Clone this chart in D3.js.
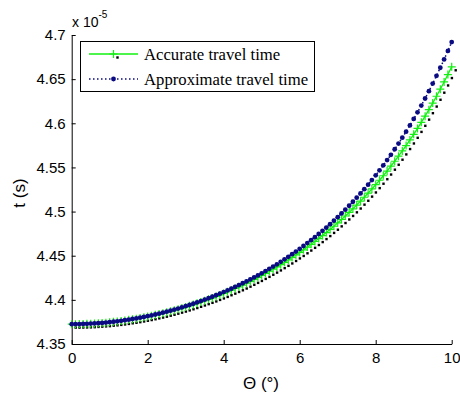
<!DOCTYPE html>
<html>
<head>
<meta charset="utf-8">
<script src="https://cdn.jsdelivr.net/npm/d3@7"></script>
<style>
  body { margin: 0; background: #fff; }
  .graph { width: 460px; height: 394px; }
  .tick text { font-family: "Liberation Sans", Arial, sans-serif; font-size: 15px; fill: #000; }
</style>
</head>
<body>
<div class="graph"></div>
<script>
// 入射角 (°)
const thetaDeg = [
  0, 0.1, 0.2, 0.3, 0.4, 0.5, 0.6, 0.7, 0.8, 0.9,
  1, 1.1, 1.2, 1.3, 1.4, 1.5, 1.6, 1.7, 1.8, 1.9,
  2, 2.1, 2.2, 2.3, 2.4, 2.5, 2.6, 2.7, 2.8, 2.9,
  3, 3.1, 3.2, 3.3, 3.4, 3.5, 3.6, 3.7, 3.8, 3.9,
  4, 4.1, 4.2, 4.3, 4.4, 4.5, 4.6, 4.7, 4.8, 4.9,
  5, 5.1, 5.2, 5.3, 5.4, 5.5, 5.6, 5.7, 5.8, 5.9,
  6, 6.1, 6.2, 6.3, 6.4, 6.5, 6.6, 6.7, 6.8, 6.9,
  7, 7.1, 7.2, 7.3, 7.4, 7.5, 7.6, 7.7, 7.8, 7.9,
  8, 8.1, 8.2, 8.3, 8.4, 8.5, 8.6, 8.7, 8.8, 8.9,
  9, 9.1, 9.2, 9.3, 9.4, 9.5, 9.6, 9.7, 9.8, 9.9,
  10
]
// travel time, unit 1e-5 s
const accurateTime = [
  4.3725, 4.3725, 4.3726, 4.3727, 4.3728, 4.3730, 4.3733, 4.3736, 4.3739, 4.3742,
  4.3747, 4.3751, 4.3756, 4.3761, 4.3767, 4.3774, 4.3780, 4.3787, 4.3795, 4.3803,
  4.3811, 4.3820, 4.3830, 4.3839, 4.3849, 4.3860, 4.3871, 4.3883, 4.3895, 4.3907,
  4.3920, 4.3933, 4.3947, 4.3961, 4.3976, 4.3991, 4.4006, 4.4022, 4.4039, 4.4056,
  4.4073, 4.4092, 4.4110, 4.4129, 4.4148, 4.4168, 4.4189, 4.4210, 4.4232, 4.4254,
  4.4277, 4.4300, 4.4324, 4.4348, 4.4373, 4.4399, 4.4425, 4.4452, 4.4480, 4.4509,
  4.4537, 4.4567, 4.4598, 4.4629, 4.4661, 4.4694, 4.4728, 4.4762, 4.4798, 4.4834,
  4.4872, 4.4910, 4.4950, 4.4990, 4.5031, 4.5074, 4.5118, 4.5162, 4.5209, 4.5256,
  4.5305, 4.5355, 4.5406, 4.5459, 4.5514, 4.5570, 4.5627, 4.5687, 4.5748, 4.5811,
  4.5875, 4.5942, 4.6011, 4.6081, 4.6154, 4.6229, 4.6306, 4.6386, 4.6468, 4.6552,
  4.6640
]
const approxTime = [
  4.3725, 4.3725, 4.3726, 4.3727, 4.3729, 4.3731, 4.3733, 4.3736, 4.3739, 4.3743,
  4.3747, 4.3752, 4.3757, 4.3763, 4.3769, 4.3776, 4.3783, 4.3790, 4.3798, 4.3806,
  4.3815, 4.3824, 4.3834, 4.3844, 4.3855, 4.3866, 4.3877, 4.3889, 4.3901, 4.3914,
  4.3928, 4.3942, 4.3956, 4.3971, 4.3986, 4.4002, 4.4018, 4.4035, 4.4052, 4.4070,
  4.4088, 4.4107, 4.4126, 4.4146, 4.4167, 4.4188, 4.4209, 4.4231, 4.4254, 4.4277,
  4.4301, 4.4326, 4.4351, 4.4377, 4.4403, 4.4431, 4.4459, 4.4487, 4.4517, 4.4547,
  4.4578, 4.4610, 4.4643, 4.4676, 4.4710, 4.4746, 4.4782, 4.4819, 4.4857, 4.4897,
  4.4937, 4.4979, 4.5021, 4.5066, 4.5111, 4.5157, 4.5205, 4.5254, 4.5305, 4.5357,
  4.5411, 4.5467, 4.5524, 4.5583, 4.5643, 4.5706, 4.5770, 4.5837, 4.5905, 4.5976,
  4.6049, 4.6124, 4.6201, 4.6281, 4.6364, 4.6450, 4.6538, 4.6629, 4.6723, 4.6820,
  4.6920
]
const xTickValues = [0, 2, 4, 6, 8, 10]
const yTickValues = [4.35, 4.4, 4.45, 4.5, 4.55, 4.6, 4.65, 4.7]
const yTickLabels = ['4.35', '4.4', '4.45', '4.5', '4.55', '4.6', '4.65', '4.7']
const legendLabels = ['Accurate travel time', 'Approximate travel time']

const Layout = {
  width: 460,
  height: 394,
  left: 71.7,
  right: 451.7,
  top: 35,
  bottom: 344,
  green: '#11f011',
  navy: '#0a0a82',
  shadow: [4, 3.5], // 黑色点相对绿色曲线的偏移
}

const svg = d3.select('.graph')
  .append('svg')
  .attr('width', Layout.width)
  .attr('height', Layout.height)

const x = d3.scaleLinear().domain([0, 10]).range([Layout.left, Layout.right])
const y = d3.scaleLinear().domain([4.35, 4.7]).range([Layout.bottom, Layout.top])

const accPts = thetaDeg.map((t, i) => [t, accurateTime[i]])
const appPts = thetaDeg.map((t, i) => [t, approxTime[i]])
const line = d3.line().x(d => x(d[0])).y(d => y(d[1]))

// 坐标轴
svg.append('g')
  .attr('transform', `translate(0,${Layout.bottom})`)
  .call(d3.axisBottom(x).tickValues(xTickValues).tickSize(-4).tickSizeOuter(0).tickPadding(8))
svg.append('g')
  .attr('transform', `translate(${Layout.left},0)`)
  .call(d3.axisLeft(y).tickValues(yTickValues).tickFormat((d, i) => yTickLabels[i])
    .tickSize(-4).tickSizeOuter(0).tickPadding(6))
svg.selectAll('.domain, .tick line').attr('stroke', '#000')

// 黑色点 (偏移)
svg.append('g')
  .attr('transform', `translate(${Layout.shadow[0]},${Layout.shadow[1]})`)
  .selectAll('rect')
  .data(accPts)
  .enter()
  .append('rect')
  .attr('x', d => x(d[0]) - 1.2)
  .attr('y', d => y(d[1]) - 1.2)
  .attr('width', 2.4)
  .attr('height', 2.4)
  .attr('fill', '#000')

// 精确曲线 绿色 +
svg.append('path')
  .datum(accPts)
  .attr('d', line)
  .attr('fill', 'none')
  .attr('stroke', Layout.green)
  .attr('stroke-width', 1.3)
const plus = (s, px, py) => s.append('path')
  .attr('d', `M${px - 4},${py}H${px + 4}M${px},${py - 4}V${py + 4}`)
  .attr('stroke', Layout.green)
  .attr('stroke-width', 1.2)
  .attr('fill', 'none')
const plusG = svg.append('g')
accPts.forEach(d => plus(plusG, x(d[0]), y(d[1])))

// 近似曲线 蓝色点线
svg.append('path')
  .datum(appPts)
  .attr('d', line)
  .attr('fill', 'none')
  .attr('stroke', Layout.navy)
  .attr('stroke-width', 1.5)
  .attr('stroke-dasharray', '1.5,2.5')
svg.append('g')
  .selectAll('circle')
  .data(appPts)
  .enter()
  .append('circle')
  .attr('cx', d => x(d[0]))
  .attr('cy', d => y(d[1]))
  .attr('r', 2.4)
  .attr('fill', Layout.navy)

// 图例
const lg = svg.append('g')
lg.append('rect')
  .attr('x', 80.5).attr('y', 41.5)
  .attr('width', 234).attr('height', 50)
  .attr('fill', '#fff').attr('stroke', '#000').attr('stroke-width', 1)
lg.append('line')
  .attr('x1', 89).attr('x2', 138).attr('y1', 54).attr('y2', 54)
  .attr('stroke', Layout.green).attr('stroke-width', 1.3)
plus(lg, 113.5, 54)
lg.append('rect')
  .attr('x', 113.5 + Layout.shadow[0] - 1.2).attr('y', 54 + Layout.shadow[1] - 1.2)
  .attr('width', 2.4).attr('height', 2.4).attr('fill', '#000')
lg.append('line')
  .attr('x1', 89).attr('x2', 138).attr('y1', 79).attr('y2', 79)
  .attr('stroke', Layout.navy).attr('stroke-width', 1.5).attr('stroke-dasharray', '1.5,2.5')
lg.append('circle').attr('cx', 113.5).attr('cy', 79).attr('r', 2.4).attr('fill', Layout.navy)
lg.selectAll('text.lbl')
  .data(legendLabels)
  .enter()
  .append('text')
  .attr('class', 'lbl')
  .attr('x', 144)
  .attr('y', (d, i) => 59.5 + i * 25)
  .style('font-family', '"Liberation Serif", "Times New Roman", serif')
  .style('font-size', '16.7px')
  .text(d => d)

// 轴标题
const sans = '"Liberation Sans", Arial, sans-serif'
svg.append('text')
  .attr('x', 261).attr('y', 389)
  .attr('text-anchor', 'middle')
  .style('font-family', sans).style('font-size', '17px')
  .text('\u0398 (\u00b0)')
svg.append('text')
  .attr('transform', 'translate(25,193) rotate(-90)')
  .attr('text-anchor', 'middle')
  .style('font-family', sans).style('font-size', '17px')
  .text('t (s)')
const expo = svg.append('text')
  .attr('x', 72).attr('y', 27)
  .style('font-family', sans).style('font-size', '14px')
expo.append('tspan').text('x 10')
expo.append('tspan').attr('dy', -9).style('font-size', '10px').text('-5')
</script>
</body>
</html>
